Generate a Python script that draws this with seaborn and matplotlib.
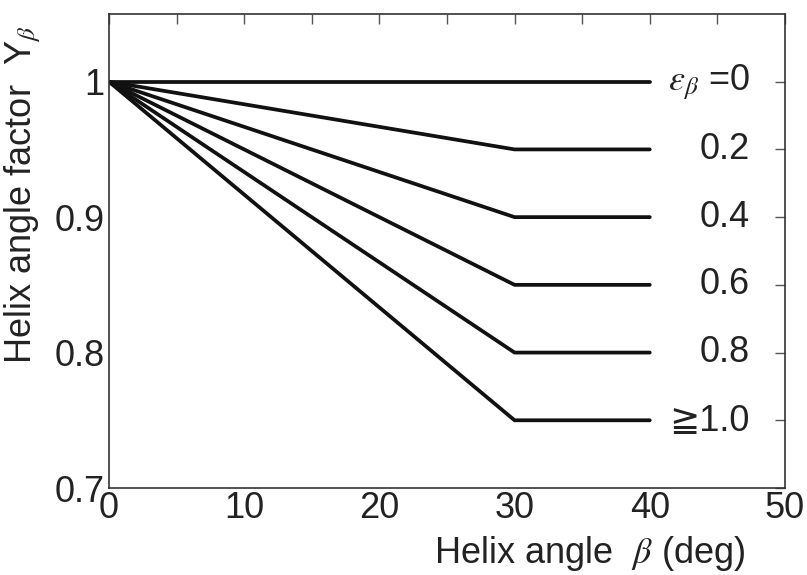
import numpy as np
import pandas as pd
import matplotlib
matplotlib.use("Agg")
import matplotlib.pyplot as plt
import seaborn as sns

# Data
eps_labels = [r"$\varepsilon_\beta$ =0", "0.2", "0.4", "0.6", "0.8", "≧1.0"]
eps_values = [0.0, 0.2, 0.4, 0.6, 0.8, 1.0]
beta_points = [0, 30, 40]
# Y_beta at beta = 0, 30, 40 for each eps
y_at_points = {
    0.0: [1.0, 1.0, 1.0],
    0.2: [1.0, 0.95, 0.95],
    0.4: [1.0, 0.90, 0.90],
    0.6: [1.0, 0.85, 0.85],
    0.8: [1.0, 0.80, 0.80],
    1.0: [1.0, 0.75, 0.75],
}
x_ticks = [0, 10, 20, 30, 40, 50]
y_ticks = [0.7, 0.8, 0.9, 1.0]
y_ticklabels = ["0.7", "0.8", "0.9", "1"]

rows = []
for e in eps_values:
    for b, y in zip(beta_points, y_at_points[e]):
        rows.append({"beta": b, "Y": y, "eps": e})
df = pd.DataFrame(rows)

sns.set_style("white")
plt.rcParams["font.family"] = ["Liberation Sans", "DejaVu Sans"]
plt.rcParams["mathtext.fontset"] = "stix"

FS = 26
fig = plt.figure(figsize=(8.07, 5.75), dpi=100)
ax = fig.add_axes([0.135, 0.1513, 0.8377, 0.8244])

sns.lineplot(data=df, x="beta", y="Y", hue="eps", palette=["#111111"] * len(eps_values),
             linewidth=2.7, legend=False, ax=ax, estimator=None, sort=False)

ax.set_xlim(0, 50)
ax.set_ylim(0.7, 1.05)
ax.set_xticks(x_ticks)
ax.set_xticks(np.arange(5, 50, 10), minor=True)
ax.set_yticks(y_ticks)
ax.set_yticklabels(y_ticklabels)
ax.set_yticks([0.75, 0.85, 0.95], minor=True)
ax.tick_params(axis="both", which="both", direction="in", top=True, right=True,
               length=7, width=1, color="#555555", labelsize=FS, labelcolor="#222222", pad=3)
ax.tick_params(axis="x", which="major", pad=2)
for s in ax.spines.values():
    s.set_color("#333333")
    s.set_linewidth(1.2)

for lab, e, yv in zip(eps_labels, eps_values, [y_at_points[e][-1] for e in eps_values]):
    ax.text(47.4, yv, lab, ha="right", va="center", fontsize=FS, color="#222222")

ax.set_xlabel(r"Helix angle  $\beta$ (deg)", fontsize=FS, color="#222222")
ax.xaxis.set_label_coords(0.941, -0.097)
ax.xaxis.label.set_horizontalalignment("right")
ax.set_ylabel(r"Helix angle factor  Y$_\beta$", fontsize=FS, color="#222222")
ax.yaxis.set_label_coords(-0.098, 0.62)

fig.savefig("out.png", dpi=100)
